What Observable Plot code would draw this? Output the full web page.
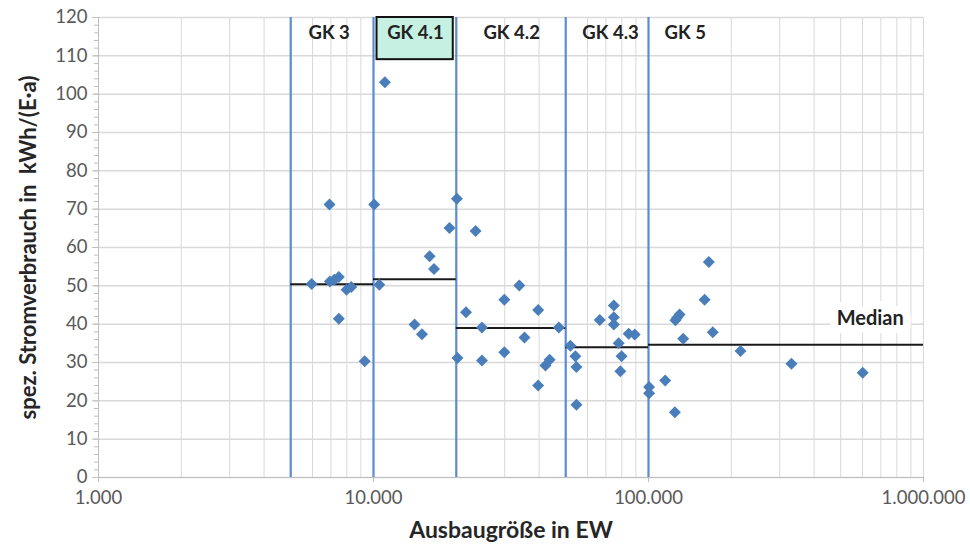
<!DOCTYPE html>
<html><head><meta charset="utf-8">
<script src="https://cdn.jsdelivr.net/npm/d3@7"></script>
<script src="https://cdn.jsdelivr.net/npm/@observablehq/plot@0.6"></script>
<style>body{margin:0;background:#fff;} svg{display:block;}</style>
</head><body><div id="chart"></div>
<script>
const plantSize = [6920,5960,6940,7200,7480,7980,8300,7480,9290,
  10060,10500,11000,14100,15000,16000,16600,18900,20100,
  20200,21700,23500,24800,24800,29900,29900,33900,35400,39700,39700,42200,43700,47200,
  52000,54200,54700,54700,66500,74800,74800,74800,77900,79800,79000,84700,89100,
  100500,100500,115000,124700,125300,127000,129700,133700,160000,165700,171300,216000,331000,601000];
const consumption = [71.2,50.5,51.1,51.6,52.3,49.0,49.7,41.4,30.3,
  71.2,50.3,103.1,39.9,37.4,57.7,54.4,65.1,72.7,
  31.2,43.1,64.3,39.1,30.5,46.4,32.7,50.1,36.5,43.7,24.0,29.2,30.7,39.1,
  34.4,31.6,28.8,19.0,41.1,44.9,41.8,39.9,35.0,31.6,27.7,37.5,37.3,
  23.6,22.0,25.3,17.0,41.0,41.7,42.5,36.2,46.4,56.2,37.9,33.0,29.7,27.3];
const gkBounds = [5000,10000,20000,50000,100000];
const gkLabels = ["GK 3","GK 4.1","GK 4.2","GK 4.3","GK 5"];
const gkLabelX = [6900,14200,31800,72800,136000];
const highlightBox = [{x1:10300,x2:19500,y1:109,y2:120}];
const medianStart = [5000,10000,20000,50000,100000];
const medianEnd = [10000,20000,50000,100000,1000000];
const medianValue = [50.4,51.7,39.0,34.0,34.6];
const xTicks = [1000,10000,100000,1000000];
const xMinorGrid = [2000,3000,4000,5000,6000,7000,8000,9000,20000,30000,40000,50000,60000,70000,80000,90000,200000,300000,400000,500000,600000,700000,800000,900000,1000000];
const yTicks = [0,10,20,30,40,50,60,70,80,90,100,110,120];
const yMinorTicks = d3.range(0,121,2);

const points = plantSize.map((x,i)=>({x, y: consumption[i]}));
const medians = medianValue.map((v,i)=>({x1: medianStart[i], x2: medianEnd[i], y: v}));
const gk = gkLabels.map((t,i)=>({t, x: gkLabelX[i]}));
const fmt = d => d3.format(",")(d).replace(/,/g,".");

const plot = Plot.plot({
  width: 970, height: 549,
  marginLeft: 98, marginRight: 47, marginTop: 17, marginBottom: 72,
  style: {fontFamily: "Lato, 'Open Sans', sans-serif", fontSize: "18px", color: "#595959", background: "#fff"},
  x: {type: "log", domain: [1000, 1000000]},
  y: {domain: [0, 120]},
  marks: [
    Plot.ruleX(xMinorGrid, {stroke: "#d9d9d9", strokeWidth: 1}),
    Plot.ruleY(yTicks, {stroke: "#d9d9d9", strokeWidth: 1.5}),
    Plot.ruleX([1000], {stroke: "#bfbfbf", strokeWidth: 1}),
    Plot.ruleY([0], {stroke: "#bfbfbf", strokeWidth: 1}),
    Plot.axisY({ticks: yMinorTicks, tickSize: 4, tickFormat: () => "", stroke: "#bfbfbf", label: null}),
    Plot.axisY({ticks: yTicks, tickSize: 6, tickPadding: 5, stroke: "#bfbfbf", fill: "#595959", fontSize: 18.5,
      label: null}),
    Plot.axisX({ticks: xTicks, tickFormat: fmt, tickSize: 5, tickPadding: 8, stroke: "#bfbfbf", fill: "#595959", fontSize: 18.5, label: null}),
    Plot.rect(highlightBox, {x1: "x1", x2: "x2", y1: "y1", y2: "y2", fill: "#c6f0e2", stroke: "#111", strokeWidth: 2}),
    Plot.ruleX(gkBounds, {stroke: "#5b8bd0", strokeWidth: 2.2}),
    Plot.ruleY(medians, {x1: "x1", x2: "x2", y: "y", stroke: "#1a1a1a", strokeWidth: 2}),
    Plot.text(["Median"], {x: [640000], y: [41.5], text: d => d, fontWeight: "bold", fontSize: 20, fill: "#222", stroke: "white", strokeWidth: 16}),
    Plot.text(gk, {x: "x", y: 116, text: "t", fontWeight: "bold", fontSize: 18.5, fill: "#222"}),
    Plot.dot(points, {x: "x", y: "y", symbol: "diamond2", r: 5.4, fill: "#4a7ebb", stroke: "none"}),
    Plot.text(["spez. Stromverbrauch in  kWh/(E·a)"], {frameAnchor: "left", dx: -70, rotate: -90, textAnchor: "middle", text: d => d, fontWeight: "bold", fontSize: 22, fill: "#262626"}),
    Plot.text(["Ausbaugröße in EW"], {frameAnchor: "bottom", dy: 60, text: d => d, fontWeight: "bold", fontSize: 23, fill: "#262626"})
  ]
});
document.getElementById("chart").appendChild(plot);
</script>
</body></html>
